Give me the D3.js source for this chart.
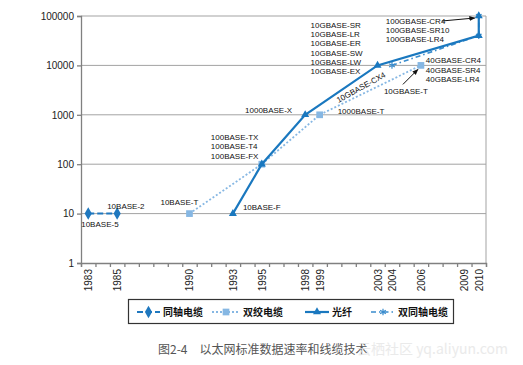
<!DOCTYPE html>
<html>
<head>
<meta charset="utf-8">
<script src="https://cdn.jsdelivr.net/npm/d3@7"></script>
<style>
  body { margin: 0; background: #fff; }
  svg { display: block; }
</style>
</head>
<body>
<div id="chart"></div>
<script>
// data: year / rate (Mb/s)
var coaxYears = [1983, 1985];
var coaxRates = [10, 10];
var tpYears = [1990, 1995, 1999, 2006];
var tpRates = [10, 100, 1000, 10000];
var fiberYears = [1993, 1995, 1998, 2003, 2010, 2010];
var fiberRates = [10, 100, 1000, 10000, 40000, 100000];
var twinaxYears = [2004, 2010, 2010];
var twinaxRates = [10000, 40000, 100000];

var yTicks = [1, 10, 100, 1000, 10000, 100000];
var xLabels = [1983, 1985, 1990, 1993, 1995, 1998, 1999, 2003, 2004, 2006, 2009, 2010];
var seriesNames = ['同轴电缆', '双绞电缆', '光纤', '双同轴电缆'];

var margin = { top: 16, right: 37, bottom: 102, left: 81 };
var width = 523 - margin.left - margin.right,
    height = 365 - margin.top - margin.bottom;

var svg = d3.select('#chart').append('svg')
    .attr('width', 523)
    .attr('height', 365)
    .style('font-family', '"Liberation Sans", Arial, sans-serif');

var graph = svg.append('g')
    .attr('transform', 'translate(' + margin.left + ',' + margin.top + ')');

var xS = d3.scaleLinear().domain([1982.5, 2010.5]).range([0, width]);
var yS = d3.scaleLog().domain([1, 100000]).range([height, 0]);

// grid
graph.selectAll('.grid')
    .data(yTicks.slice(1))
    .enter().append('line')
    .attr('x1', 0).attr('x2', width)
    .attr('y1', function (d) { return yS(d); })
    .attr('y2', function (d) { return yS(d); })
    .style('stroke', '#a3a3a3')
    .style('stroke-width', 1);
graph.append('line')
    .attr('x1', width).attr('x2', width).attr('y1', 0).attr('y2', height)
    .style('stroke', '#a3a3a3');

// axes
var yAxis = graph.append('g')
    .call(d3.axisLeft(yS).tickValues(yTicks).tickFormat(d3.format('d')).tickSize(4).tickPadding(3));
var xTicks = graph.append('g')
    .attr('transform', 'translate(0,' + height + ')')
    .call(d3.axisBottom(xS).tickValues(d3.range(1982.5, 2010.6, 1)).tickFormat('').tickSize(4));
var xAxis = graph.append('g')
    .attr('transform', 'translate(0,' + height + ')')
    .call(d3.axisBottom(xS).tickValues(xLabels).tickFormat(d3.format('d')).tickSize(0));
xAxis.select('.domain').remove();
xAxis.selectAll('text')
    .attr('transform', 'rotate(-90)')
    .attr('text-anchor', 'end')
    .attr('x', -6)
    .attr('y', 0)
    .attr('dy', '0.35em');
[yAxis, xTicks, xAxis].forEach(function (a) {
    a.selectAll('.domain, line').style('stroke', '#808080').style('stroke-width', 1.3);
    a.selectAll('text').style('font-size', '10px').style('fill', '#222')
        .style('font-family', '"Liberation Sans", Arial, sans-serif');
});

function pts(xs, ys) {
    return xs.map(function (x, i) { return [x, ys[i]]; });
}
var line = d3.line()
    .x(function (d) { return xS(d[0]); })
    .y(function (d) { return yS(d[1]); });

var series = [
    { name: seriesNames[0], data: pts(coaxYears, coaxRates), color: '#1f78bf', width: 2, dash: '6,3', sym: d3.symbolDiamond, size: 45 },
    { name: seriesNames[1], data: pts(tpYears, tpRates), color: '#86b7e3', width: 1.8, dash: '2,2', sym: d3.symbolSquare, size: 45 },
    { name: seriesNames[3], data: pts(twinaxYears, twinaxRates), color: '#3a8ccd', width: 1.6, dash: '5,3,1.5,3', sym: d3.symbolAsterisk, size: 30 },
    { name: seriesNames[2], data: pts(fiberYears, fiberRates), color: '#1a78bf', width: 2.2, dash: null, sym: d3.symbolTriangle, size: 28 }
];

series.forEach(function (s) {
    graph.append('path')
        .datum(s.data)
        .attr('d', line)
        .style('fill', 'none')
        .style('stroke', s.color)
        .style('stroke-width', s.width)
        .style('stroke-dasharray', s.dash);
    graph.selectAll(null)
        .data(s.data)
        .enter().append('path')
        .attr('d', d3.symbol().type(s.sym).size(s.size))
        .attr('transform', function (d) { return 'translate(' + xS(d[0]) + ',' + yS(d[1]) + ')'; })
        .style('fill', s.sym === d3.symbolAsterisk ? 'none' : s.color)
        .style('stroke', s.sym === d3.symbolAsterisk ? s.color : 'none')
        .style('stroke-width', 1.2);
});

// annotations: anchor point + offset of first line
var notes = [
    { lines: ['10BASE-5'], x: 1983, y: 10, dx: -7, dy: 11, anchor: 'start' },
    { lines: ['10BASE-2'], x: 1985, y: 10, dx: -10, dy: -7, anchor: 'start' },
    { lines: ['10BASE-T'], x: 1990, y: 10, dx: -29, dy: -11, anchor: 'start' },
    { lines: ['10BASE-F'], x: 1993, y: 10, dx: 10, dy: -6, anchor: 'start' },
    { lines: ['100BASE-TX', '100BASE-T4', '100BASE-FX'], x: 1995, y: 100, dx: -51, dy: -27, anchor: 'start' },
    { lines: ['1000BASE-X'], x: 1998, y: 1000, dx: -13, dy: -5, anchor: 'end' },
    { lines: ['1000BASE-T'], x: 1999, y: 1000, dx: 18, dy: -4, anchor: 'start' },
    { lines: ['10GBASE-SR', '10GBASE-LR', '10GBASE-ER', '10GBASE-SW', '10GBASE-LW', '10GBASE-EX'], x: 2003, y: 10000, dx: -67, dy: -40.5, anchor: 'start' },
    { lines: ['10GBASE-T'], x: 2006, y: 10000, dx: -37, dy: 26, anchor: 'start' },
    { lines: ['40GBASE-CR4', '40GBASE-SR4', '40GBASE-LR4'], x: 2010, y: 40000, dx: -53, dy: 25, anchor: 'start' },
    { lines: ['100GBASE-CR4', '100GBASE-SR10', '100GBASE-LR4'], x: 2010, y: 100000, dx: -93, dy: 5, anchor: 'start' }
];
notes.forEach(function (n) {
    var t = graph.append('text')
        .attr('text-anchor', n.anchor)
        .style('font-size', '8px')
        .style('fill', '#111');
    n.lines.forEach(function (l, i) {
        t.append('tspan')
            .attr('x', xS(n.x) + n.dx)
            .attr('y', yS(n.y) + n.dy + i * 9.3)
            .attr('dy', '0.35em')
            .text(l);
    });
});

// rotated twinax label
graph.append('text')
    .attr('transform', 'translate(' + (xS(2004) - 31) + ',' + (yS(10000) + 22) + ') rotate(-29)')
    .attr('text-anchor', 'middle')
    .attr('dy', '0.35em')
    .style('font-size', '8px')
    .style('fill', '#111')
    .text('10GBASE-CX4');

// arrows
svg.append('defs').append('marker')
    .attr('id', 'arr')
    .attr('viewBox', '0 0 10 10')
    .attr('refX', 9).attr('refY', 5)
    .attr('markerWidth', 6).attr('markerHeight', 6)
    .attr('orient', 'auto')
    .append('path').attr('d', 'M0,1 L10,5 L0,9 Z').style('fill', '#111');
var arrows = [
    { x: 2010, y: 100000, x1: -37, y1: 5, x2: -4, y2: 2 },
    { x: 2006, y: 10000, x1: -18, y1: 19, x2: -3, y2: 4 }
];
arrows.forEach(function (a) {
    graph.append('line')
        .attr('x1', xS(a.x) + a.x1).attr('y1', yS(a.y) + a.y1)
        .attr('x2', xS(a.x) + a.x2).attr('y2', yS(a.y) + a.y2)
        .style('stroke', '#111')
        .style('stroke-width', 1)
        .attr('marker-end', 'url(#arr)');
});

// legend
var legend = svg.append('g');
legend.append('rect')
    .attr('x', 128.5).attr('y', 299.5).attr('width', 325).attr('height', 24)
    .style('fill', '#fff').style('stroke', '#333').style('stroke-width', 1.2);
var legItems = [series[0], series[1], series[3], series[2]];
var legX = [137, 212, 305, 371];
var legW = [23, 28, 24, 24];
legItems.forEach(function (s, i) {
    var g = legend.append('g').attr('transform', 'translate(' + legX[i] + ',312)');
    g.append('line').attr('x1', 0).attr('x2', legW[i])
        .style('stroke', s.color).style('stroke-width', s.width)
        .style('stroke-dasharray', s.dash);
    g.append('path')
        .attr('d', d3.symbol().type(s.sym).size(s.size))
        .attr('transform', 'translate(' + legW[i] / 2 + ',0)')
        .style('fill', s.sym === d3.symbolAsterisk ? 'none' : s.color)
        .style('stroke', s.sym === d3.symbolAsterisk ? s.color : 'none')
        .style('stroke-width', 1.2);
    g.append('text')
        .attr('x', legW[i] + 3)
        .attr('dy', '0.36em')
        .style('font-family', '"Noto Sans CJK SC", sans-serif')
        .style('font-size', '10px')
        .style('font-weight', 'bold')
        .style('fill', '#111')
        .text(s.name);
});

// caption + watermark
svg.append('text')
    .attr('x', 158).attr('y', 350).attr('dy', '0.35em')
    .style('font-family', '"Noto Sans CJK SC", sans-serif')
    .style('font-size', '12px')
    .style('fill', '#555')
    .text('图2-4\u3000以太网标准数据速率和线缆技术');
svg.append('text')
    .attr('x', 357).attr('y', 349).attr('dy', '0.35em')
    .style('font-family', '"Noto Sans CJK SC", sans-serif')
    .style('font-size', '14px')
    .style('fill', '#e6e6e6')
    .style('opacity', 0.8)
    .text('云栖社区 yq.aliyun.com');
</script>
</body>
</html>
